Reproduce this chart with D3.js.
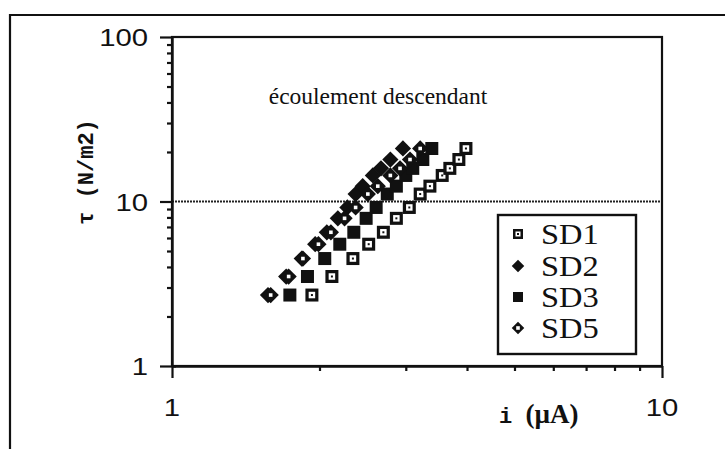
<!DOCTYPE html>
<html>
<head>
<meta charset="utf-8">
<script src="https://cdn.jsdelivr.net/npm/d3@7"></script>
<style>
  html, body { margin: 0; padding: 0; background: #fff; }
  svg { display: block; }
  .serif { font-family: "Liberation Serif", "Times New Roman", Times, serif; }
  .sans { font-family: "Liberation Sans", Arial, Helvetica, sans-serif; }
  .mono { font-family: "Liberation Mono", "Courier New", Courier, monospace; font-weight: bold; }
</style>
</head>
<body>
<svg id="chart" width="725" height="450"></svg>
<script>
// Shear stress levels (N/m2) shared by every run
const tau = [2.7, 3.5, 4.5, 5.5, 6.5, 7.9, 9.2, 11.1, 12.4, 14.4, 15.9, 18.0, 21.0];
// Current i (µA) measured for each run
const sd1 = [1.93, 2.12, 2.34, 2.52, 2.70, 2.87, 3.05, 3.21, 3.36, 3.56, 3.69, 3.85, 3.98];
const sd2 = [1.57, 1.71, 1.84, 1.96, 2.07, 2.18, 2.28, 2.37, 2.45, 2.57, 2.67, 2.79, 2.96];
const sd3 = [1.74, 1.89, 2.05, 2.20, 2.35, 2.49, 2.61, 2.75, 2.87, 3.00, 3.10, 3.25, 3.39];
const sd5 = [1.59, 1.73, 1.85, 1.99, 2.11, 2.25, 2.37, 2.51, 2.63, 2.79, 2.92, 3.06, 3.21];
const seriesNames = ["SD1", "SD2", "SD3", "SD5"];
const xTickLabels = [1, 10];
const yTickLabels = [1, 10, 100];
const titleText = "écoulement descendant";

const svg = d3.select("#chart");
const plotLeft = 172, plotRight = 662, plotTop = 37, plotBottom = 366;

const x = d3.scaleLog().domain([1, 10]).range([plotLeft, plotRight]);
const y = d3.scaleLog().domain([1, 100]).range([plotBottom, plotTop]);

// outer frame (left and top edges)
svg.append("path")
  .attr("d", "M10,449 L10,15 L725,15")
  .attr("fill", "none").attr("stroke", "#111").attr("stroke-width", 2.2);

// dotted reference line at tau = 10
svg.append("line")
  .attr("x1", plotLeft).attr("x2", plotRight)
  .attr("y1", y(10)).attr("y2", y(10))
  .attr("stroke", "#222").attr("stroke-width", 1.8)
  .attr("stroke-dasharray", "2,1");

// plot box
svg.append("rect")
  .attr("x", plotLeft).attr("y", plotTop)
  .attr("width", plotRight - plotLeft).attr("height", plotBottom - plotTop)
  .attr("fill", "none").attr("stroke", "#111").attr("stroke-width", 2.2);

// y axis with minor ticks (2..9 in each decade)
const yTicks = d3.range(0, 2).flatMap(d => d3.range(1, 10).map(k => k * Math.pow(10, d))).concat([100]);
const yAxis = d3.axisLeft(y).tickValues(yTicks).tickFormat("").tickSizeOuter(0);
const gy = svg.append("g").attr("transform", `translate(${plotLeft},0)`).call(yAxis);
gy.select(".domain").attr("stroke", "#111").attr("stroke-width", 2.4);
gy.selectAll(".tick line")
  .attr("stroke", "#111").attr("stroke-width", 2.2)
  .attr("x2", d => yTickLabels.includes(d) ? -12 : -5);
gy.selectAll(".tick").filter(d => d === 1).select("line").clone().attr("x2", 4);

// x axis with minor ticks
const xTicks = d3.range(1, 11);
const xAxis = d3.axisBottom(x).tickValues(xTicks).tickFormat("").tickSizeOuter(0);
const gx = svg.append("g").attr("transform", `translate(0,${plotBottom})`).call(xAxis);
gx.select(".domain").attr("stroke", "#111").attr("stroke-width", 2.4);
gx.selectAll(".tick line")
  .attr("stroke", "#111").attr("stroke-width", 2.2)
  .attr("y2", d => xTickLabels.includes(d) ? 12 : 5);

// tick labels
yTickLabels.forEach(v => {
  svg.append("text").attr("class", "sans")
    .attr("transform", `translate(148,${y(v) + 9}) scale(1.22,1)`)
    .attr("text-anchor", "end")
    .attr("font-size", 24)
    .attr("fill", "#111")
    .text(v);
});
xTickLabels.forEach(v => {
  svg.append("text").attr("class", "sans")
    .attr("transform", `translate(${x(v)},${416}) scale(1.22,1)`)
    .attr("text-anchor", "middle")
    .attr("font-size", 24)
    .attr("fill", "#111")
    .text(v);
});

// title inside the plot
svg.append("text").attr("class", "serif")
  .attr("x", 378).attr("y", 104)
  .attr("text-anchor", "middle")
  .attr("font-size", 23.5).attr("fill", "#111")
  .text(titleText);

// axis titles
svg.append("text").attr("class", "mono")
  .attr("transform", "translate(93,172) rotate(-90)")
  .attr("text-anchor", "middle")
  .attr("font-size", 22).attr("fill", "#111")
  .text("τ (N/m2)");

const xl = svg.append("text")
  .attr("x", 499).attr("y", 423)
  .attr("fill", "#111");
xl.append("tspan").attr("class", "mono")
  .attr("font-size", 22)
  .text("i ");
xl.append("tspan").attr("class", "serif")
  .attr("font-weight", "bold").attr("font-size", 27)
  .text("(µA)");

// marker glyphs
function drawMarker(g, name, cx, cy, s) {
  const h = s / 2;
  if (name === "SD1") {
    g.append("rect").attr("x", cx - h).attr("y", cy - h).attr("width", s).attr("height", s).attr("fill", "#111");
    g.append("rect").attr("x", cx - s * 0.25).attr("y", cy - s * 0.25).attr("width", s * 0.5).attr("height", s * 0.5).attr("fill", "#fff");
    g.append("rect").attr("x", cx - 1).attr("y", cy - 1).attr("width", 2).attr("height", 2).attr("fill", "#111");
  } else if (name === "SD3") {
    g.append("rect").attr("x", cx - h).attr("y", cy - h).attr("width", s).attr("height", s).attr("fill", "#111");
  } else {
    const r = h * 1.25;
    g.append("path")
      .attr("d", `M${cx},${cy - r} L${cx + r},${cy} L${cx},${cy + r} L${cx - r},${cy} Z`)
      .attr("fill", "#111");
    if (name === "SD5") {
      g.append("rect").attr("x", cx - 1.8).attr("y", cy - 1.8).attr("width", 3.6).attr("height", 3.6).attr("fill", "#fff");
    }
  }
}

const seriesValues = { SD1: sd1, SD2: sd2, SD3: sd3, SD5: sd5 };
const marks = svg.append("g");
seriesNames.forEach(name => {
  const g = marks.append("g").attr("class", name);
  seriesValues[name].forEach((iv, k) => drawMarker(g, name, x(iv), y(tau[k]), 13));
});

// legend
const lg = svg.append("g");
lg.append("rect")
  .attr("x", 498).attr("y", 215).attr("width", 138).attr("height", 139)
  .attr("fill", "#fff").attr("stroke", "#111").attr("stroke-width", 2.4);
const legY = [234, 266, 297, 328];
seriesNames.forEach((name, k) => {
  drawMarker(lg, name, 518, legY[k], 10);
  lg.append("text").attr("class", "serif")
    .attr("transform", `translate(541,${legY[k] + 10}) scale(1.12,1)`)
    .attr("font-size", 29).attr("fill", "#111")
    .text(name);
});
</script>
</body>
</html>
